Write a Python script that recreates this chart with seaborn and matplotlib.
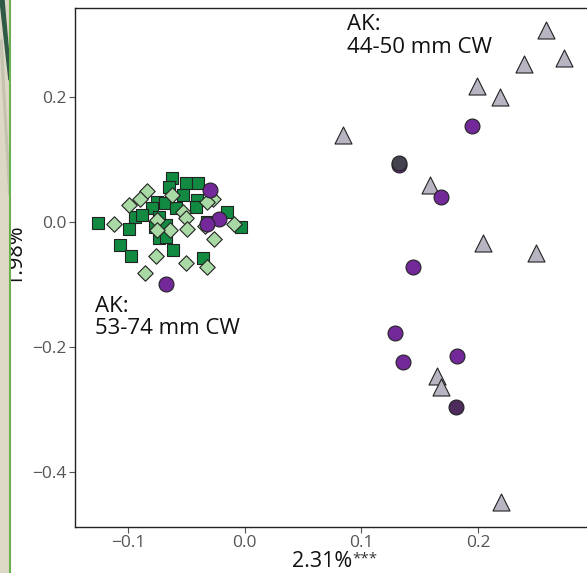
import numpy as np
import pandas as pd
import seaborn as sns
import matplotlib.pyplot as plt
from matplotlib.patches import Rectangle, Polygon
from matplotlib.lines import Line2D

# dark green squares
sq_x = [-0.126, -0.062, -0.050, -0.040, -0.065, -0.053, -0.075, -0.068, -0.041, -0.079,
        -0.059, -0.042, -0.094, -0.088, -0.015, -0.073, -0.077, -0.067, -0.032, -0.003,
        -0.099, -0.073, -0.067, -0.107, -0.097, -0.061, -0.036]
sq_y = [-0.002, 0.070, 0.062, 0.062, 0.056, 0.043, 0.032, 0.030, 0.035, 0.022,
        0.022, 0.024, 0.008, 0.011, 0.016, 0.008, -0.008, -0.005, 0.000, -0.008,
        -0.011, -0.026, -0.024, -0.037, -0.054, -0.045, -0.058]
# light green diamonds
dm_x = [-0.112, -0.084, -0.090, -0.099, -0.062, -0.027, -0.032, -0.053, -0.050, -0.075,
        -0.064, -0.075, -0.049, -0.009, -0.026, -0.076, -0.050, -0.032, -0.085, -0.034]
dm_y = [-0.003, 0.050, 0.037, 0.027, 0.043, 0.037, 0.032, 0.016, 0.006, 0.003,
        -0.013, -0.013, -0.011, -0.003, -0.027, -0.054, -0.066, -0.072, -0.082, -0.006]
# purple circles
ci_x = [0.195, 0.132, 0.168, 0.144, 0.129, 0.136, 0.182, -0.030, -0.022, -0.032, -0.067]
ci_y = [0.154, 0.091, 0.040, -0.072, -0.178, -0.224, -0.214, 0.051, 0.005, -0.003, -0.099]
# darker overlapping circles
dk_x = [0.132, 0.181]
dk_y = [0.095, -0.296]
dk_col = ["#454250", "#4d2b5c"]
# grey-lavender triangles
tr_x = [0.258, 0.274, 0.239, 0.199, 0.219, 0.084, 0.159, 0.204, 0.250, 0.165, 0.168, 0.220]
tr_y = [0.307, 0.262, 0.253, 0.218, 0.200, 0.139, 0.059, -0.034, -0.050, -0.246, -0.264, -0.448]

df = pd.concat([
    pd.DataFrame({"x": sq_x, "y": sq_y, "grp": "sq"}),
    pd.DataFrame({"x": dm_x, "y": dm_y, "grp": "dm"}),
    pd.DataFrame({"x": tr_x, "y": tr_y, "grp": "tr"}),
    pd.DataFrame({"x": ci_x, "y": ci_y, "grp": "ci"}),
], ignore_index=True)

pal = {"sq": "#128a42", "dm": "#a9d9a4", "ci": "#74299a", "tr": "#b9b4c2"}
mk = {"sq": "s", "dm": "D", "ci": "o", "tr": "^"}
sizes = {"sq": 78, "dm": 62, "ci": 115, "tr": 150}

sns.set_style("white")
plt.rcParams['font.family'] = ['Open Sans', 'DejaVu Sans']

fig = plt.figure(figsize=(5.87, 5.73), dpi=100)
ax = fig.add_axes([0.128, 0.080, 0.875, 0.906])

for g in ["sq", "dm", "tr", "ci"]:
    sub = df[df.grp == g]
    sns.scatterplot(data=sub, x="x", y="y", color=pal[g], marker=mk[g], s=sizes[g],
                    edgecolor="#222222", linewidth=0.8, ax=ax, legend=False, zorder=3)
for xx, yy, cc in zip(dk_x, dk_y, dk_col):
    ax.scatter([xx], [yy], color=cc, marker="o", s=115, edgecolor="#222222", linewidth=0.8, zorder=4)

ax.set_xlim(-0.1453, 0.2949)
ax.set_ylim(-0.488, 0.342)
ax.set_xticks([-0.1, 0.0, 0.1, 0.2])
ax.set_xticklabels(["\u22120.1", "0.0", "0.1", "0.2"])
ax.set_yticks([-0.4, -0.2, 0.0, 0.2])
ax.set_yticklabels(["\u22120.4", "\u22120.2", "0.0", "0.2"])
ax.tick_params(axis="both", colors="#555555", labelsize=12.5, length=4, width=0.8, direction="out",
               bottom=True, left=True, pad=2)
for side in ["left", "bottom", "top"]:
    ax.spines[side].set_color("#222222")
    ax.spines[side].set_linewidth(1.0)
ax.spines["right"].set_visible(False)

ax.set_xlabel("")
ax.set_ylabel("")
# axis titles
fig.text(0.600, 0.010, "2.31%", fontsize=15.5, color="#111111", ha="right", va="baseline")
fig.text(0.601, 0.019, "***", fontsize=11, color="#333333", ha="left", va="baseline")
fig.text(0.026, 0.555, "1.98%", rotation=90, fontsize=15.5, color="#111111", ha="center", va="center")

ax.text(0.088, 0.332, "AK:\n44-50 mm CW", fontsize=16, color="#111111", ha="left", va="top",
        linespacing=1.1)
ax.text(-0.128, -0.118, "AK:\n53-74 mm CW", fontsize=16, color="#111111", ha="left", va="top",
        linespacing=1.1)

# slide decoration on the left edge
fig.patches.append(Rectangle((0, 0), 9 / 587, 1, transform=fig.transFigure, color="#ddd7c6", zorder=10))
fig.patches.append(Polygon([(0, 1), (4 / 587, 1), (9 / 587, 0.90), (9 / 587, 0.86)], closed=True,
                           transform=fig.transFigure, color="#2f5a45", zorder=11))
fig.patches.append(Polygon([(0, 0.93), (2 / 587, 0.93), (9 / 587, 0.70), (9 / 587, 0.66)], closed=True,
                           transform=fig.transFigure, color="#c3c3b0", zorder=11))
fig.lines.append(Line2D([10 / 587, 10 / 587], [0, 1], transform=fig.transFigure, color="#6ab04c",
                        linewidth=1.5, zorder=12))

fig.savefig("out.png", dpi=100)
